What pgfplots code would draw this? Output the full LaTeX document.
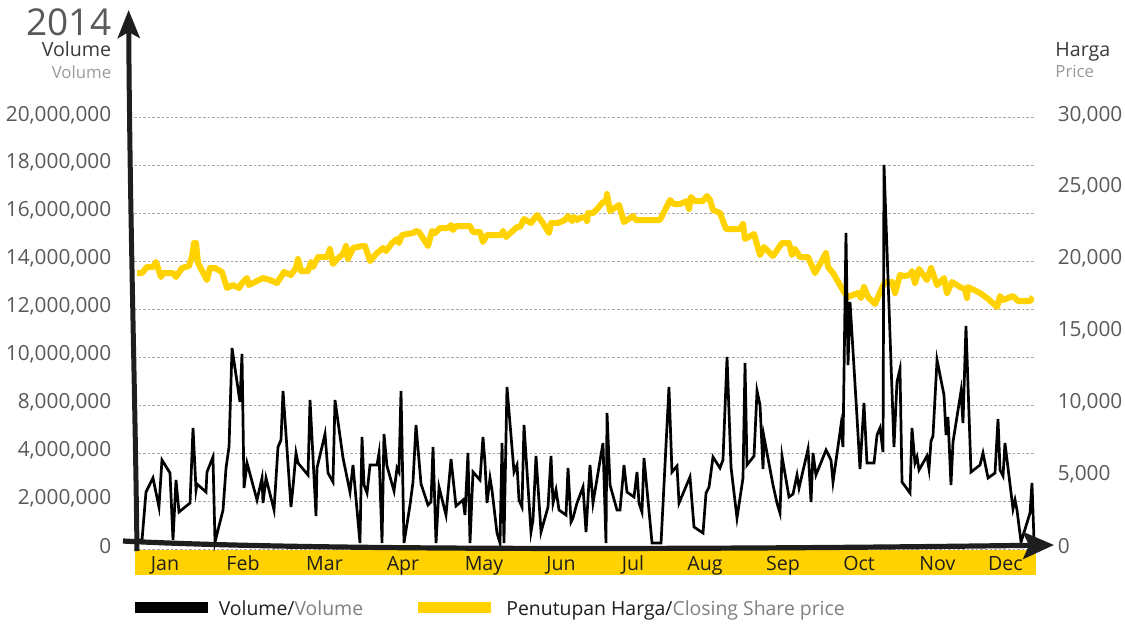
\documentclass[border=0pt]{standalone}
\usepackage{pgfplots}
\usepackage{pgfplotstable}
\pgfplotsset{compat=1.18}
\usetikzlibrary{arrows.meta}
\usepackage{fontspec}
\setmainfont{Open Sans}
\definecolor{ryellow}{HTML}{FFD200}
\definecolor{tickgray}{HTML}{595959}
\definecolor{subgray}{HTML}{9A9A9A}
\definecolor{darktxt}{HTML}{3A3A3A}
\definecolor{arrowblack}{HTML}{1E1E1E}
\definecolor{gridgray}{HTML}{A6A6A6}

\pgfplotstableread{
x vol
0.040 376000
0.107 376000
0.160 2379000
0.253 2964000
0.333 1753000
0.373 3715000
0.480 3173000
0.520 376000
0.560 2880000
0.600 1545000
0.747 1920000
0.787 5051000
0.827 2463000
0.840 2713000
0.960 2379000
0.973 3214000
1.053 3840000
1.080 292000
1.187 1628000
1.227 3381000
1.267 4258000
1.307 8391000
1.413 6136000
1.440 8140000
1.467 2546000
1.507 3590000
1.640 2045000
1.707 2964000
1.720 1920000
1.760 2964000
1.867 1628000
1.920 4258000
1.960 4550000
1.987 6596000
2.093 1753000
2.120 2588000
2.160 4007000
2.187 3590000
2.320 3089000
2.347 6220000
2.427 1378000
2.440 3381000
2.547 4801000
2.587 3173000
2.653 2797000
2.680 6220000
2.787 3799000
2.880 2379000
2.920 3506000
3.013 250000
3.040 4675000
3.067 2672000
3.107 2338000
3.147 3506000
3.240 3506000
3.267 4007000
3.307 250000
3.333 4801000
3.373 3465000
3.467 2421000
3.507 3381000
3.533 3214000
3.560 6596000
3.600 250000
3.680 1837000
3.720 2797000
3.760 5176000
3.827 2713000
3.920 1837000
3.960 1962000
3.987 4258000
4.027 250000
4.067 2588000
4.160 1419000
4.227 3757000
4.293 1795000
4.387 2045000
4.413 1419000
4.453 4007000
4.480 250000
4.520 3214000
4.613 2880000
4.653 4675000
4.680 3590000
4.707 1920000
4.747 2964000
4.773 2463000
4.840 668000
4.880 250000
4.907 4425000
4.933 250000
4.973 6763000
5.067 3214000
5.107 3506000
5.133 2045000
5.173 1753000
5.200 5176000
5.293 710000
5.320 1211000
5.360 3882000
5.427 710000
5.520 1753000
5.560 3882000
5.587 1920000
5.627 2463000
5.667 1628000
5.760 1419000
5.787 3381000
5.827 1127000
5.853 1294000
5.907 1920000
5.987 2588000
6.027 710000
6.080 3506000
6.120 1920000
6.253 4425000
6.293 250000
6.307 5677000
6.347 2672000
6.440 1628000
6.480 1628000
6.520 3006000
6.533 3506000
6.573 2379000
6.667 2171000
6.707 3214000
6.733 1920000
6.773 1545000
6.800 3799000
6.907 250000
7.027 250000
7.133 6763000
7.173 3214000
7.240 3465000
7.267 1920000
7.413 3006000
7.467 918000
7.587 668000
7.627 2338000
7.667 2588000
7.720 3840000
7.813 3381000
7.853 3715000
7.907 8015000
7.960 3423000
8.040 1294000
8.120 2964000
8.147 7764000
8.173 3506000
8.267 3882000
8.307 6596000
8.347 6011000
8.387 3340000
8.400 4675000
8.520 2672000
8.573 1920000
8.613 1503000
8.640 3882000
8.733 2171000
8.787 2296000
8.840 3089000
8.867 2546000
8.987 4174000
9.027 1962000
9.053 4007000
9.093 3089000
9.227 4133000
9.293 3715000
9.320 2797000
9.427 5176000
9.453 4258000
9.493 13191000
9.520 7681000
9.547 10311000
9.640 5510000
9.680 3340000
9.733 6095000
9.773 3590000
9.867 3590000
9.907 4759000
9.947 5051000
9.987 4049000
10.000 16030000
10.133 4258000
10.173 6971000
10.213 7514000
10.240 2797000
10.347 2338000
10.373 5051000
10.413 3590000
10.440 3840000
10.467 3298000
10.573 3882000
10.600 3340000
10.627 4508000
10.653 4717000
10.707 7890000
10.800 6429000
10.827 4759000
10.853 5510000
10.893 2672000
10.920 4467000
11.027 6596000
11.053 5260000
11.093 9309000
11.160 3214000
11.280 3506000
11.320 4007000
11.387 2964000
11.480 3173000
11.520 5427000
11.547 3298000
11.587 3047000
11.613 4425000
11.720 1670000
11.747 2045000
11.773 1628000
11.827 292000
11.947 1503000
11.973 2755000
12.000 376000
}\voltable

\pgfplotstableread{
x price
0.040 19201
0.107 19201
0.173 19619
0.253 19619
0.293 19967
0.360 18923
0.387 19201
0.520 19201
0.560 18923
0.640 19549
0.733 19688
0.773 20314
0.800 21288
0.827 21288
0.853 19897
0.973 18714
1.013 19549
1.080 19549
1.173 19271
1.240 18158
1.320 18366
1.400 18158
1.440 18506
1.507 18853
1.533 18366
1.613 18575
1.720 18853
1.813 18714
1.907 18506
2.000 19271
2.093 19062
2.160 19549
2.187 20175
2.227 19340
2.320 19340
2.360 19967
2.387 19619
2.453 20314
2.573 20314
2.613 20871
2.653 19827
2.707 20175
2.787 20523
2.827 21080
2.853 20175
2.920 20941
3.040 21080
3.080 21080
3.147 20036
3.240 20593
3.320 20941
3.360 20732
3.440 21288
3.507 21567
3.533 21288
3.573 21845
3.720 21984
3.760 22123
3.800 22054
3.920 21080
3.973 22123
4.013 21984
4.080 22332
4.187 22332
4.227 22541
4.253 22193
4.293 22471
4.480 22471
4.520 22054
4.613 22054
4.653 21358
4.707 21845
4.893 21845
4.920 22123
4.960 21706
5.107 22402
5.147 22402
5.200 22958
5.293 22680
5.373 23236
5.453 22680
5.533 21984
5.560 22680
5.653 22680
5.747 22889
5.787 23167
5.840 22819
5.867 23097
5.907 22889
5.947 23028
6.013 23097
6.040 22819
6.053 23376
6.120 23376
6.187 23723
6.253 24141
6.293 24141
6.307 24697
6.347 23515
6.467 23932
6.533 22749
6.653 23167
6.693 22889
7.013 22889
7.147 24280
7.200 24002
7.280 24002
7.373 24210
7.400 23654
7.427 24489
7.480 24210
7.587 24210
7.640 24558
7.680 24280
7.720 23584
7.813 23376
7.893 22262
8.080 22262
8.120 22610
8.147 21567
8.267 21915
8.347 20454
8.400 21010
8.520 20384
8.640 21288
8.733 21288
8.773 20454
8.813 20871
8.880 20314
8.987 20314
9.080 19201
9.227 20593
9.253 19619
9.320 19201
9.467 17879
9.520 17532
9.653 17810
9.693 17462
9.733 18227
9.787 17532
9.880 17045
9.960 18019
10.013 18575
10.107 18575
10.147 17810
10.213 19062
10.267 18993
10.347 19062
10.373 19340
10.413 18506
10.467 19480
10.573 18714
10.627 19549
10.707 18366
10.800 18853
10.840 17810
10.907 18575
11.013 18227
11.080 18088
11.107 17462
11.120 18227
11.280 17810
11.373 17462
11.507 16836
11.547 17601
11.587 17323
11.720 17601
11.787 17253
11.947 17253
11.987 17532
}\pricetable

\begin{document}
\begin{tikzpicture}[x=1pt,y=1pt]
\useasboundingbox (0,0) rectangle (562.5,311.5);
% month band
\fill[ryellow] (67.5,24) rectangle (518,36.75);

% axis 1: grid, left ticks, month labels
\begin{axis}[
  at={(67pt,37pt)}, anchor=south west,
  width=450pt, height=215.6pt, scale only axis,
  xmin=0, xmax=12, ymin=0, ymax=18000000,
  axis x line*=bottom, axis y line*=left,
  axis line style={draw=none},
  major tick length=0pt,
  scaled y ticks=false,
  ytick={0,2000000,4000000,6000000,8000000,10000000,12000000,14000000,16000000,18000000},
  yticklabels={0,{2,000,000},{4,000,000},{8,000,000},{10,000,000},{12,000,000},{14,000,000},{16,000,000},{18,000,000},{20,000,000}},
  yticklabel style={anchor=east, inner sep=0pt, xshift=-11.2pt, yshift=1.5pt,
    font=\fontsize{10.4}{12}\selectfont, text=tickgray},
  ymajorgrids,
  grid style={gridgray, line width=0.5pt, dash pattern=on 1.3pt off 1pt},
  xtick={0.413,1.453,2.54,3.587,4.667,5.693,6.653,7.613,8.653,9.667,10.713,11.62},
  xticklabels={Jan,Feb,Mar,Apr,May,Jun,Jul,Aug,Sep,Oct,Nov,Dec},
  xticklabel style={anchor=base, inner sep=0pt, yshift=-10.5pt,
    font=\fontsize{9.8}{12}\selectfont, text=arrowblack},
]
\addplot[draw=none, forget plot] coordinates {(0,0)};
\end{axis}

% axis 2: price on right
\begin{axis}[
  at={(67pt,37pt)}, anchor=south west,
  width=450pt, height=215.6pt, scale only axis,
  xmin=0, xmax=12, ymin=0, ymax=30000,
  axis y line*=right, axis x line=none,
  axis line style={draw=none},
  major tick length=0pt,
  scaled y ticks=false,
  ytick={0,5000,10000,15000,20000,25000,30000},
  yticklabels={0,{5,000},{10,000},{15,000},{20,000},{25,000},{30,000}},
  yticklabel style={anchor=west, inner sep=0pt, xshift=11.7pt, yshift=1.5pt,
    font=\fontsize{10.4}{12}\selectfont, text=tickgray},
]
\addplot[ryellow, line width=3pt, line join=round] table[x=x,y=price]{\pricetable};
\end{axis}

% axis 3: volume
\begin{axis}[
  at={(67pt,37pt)}, anchor=south west,
  width=450pt, height=215.6pt, scale only axis,
  xmin=0, xmax=12, ymin=0, ymax=18000000,
  axis lines=none, clip=false,
]
\addplot[black, line width=1.35pt] table[x=x,y=vol]{\voltable};
\end{axis}

% hand-drawn axis arrows
\draw[arrowblack, line width=2.6pt, -{Stealth[length=15.5pt,width=13.5pt,inset=3pt]}]
  (61.5,41) .. controls (150,36.3) and (350,36.6) .. (527,39);
\draw[arrowblack, line width=2.5pt, -{Stealth[length=14pt,width=11pt,inset=3pt]}]
  (68.5,36) .. controls (67.5,120) and (65,200) .. (64.3,306.5);

% titles
\node[anchor=base east, inner sep=0pt, font=\fontsize{18.5}{20}\selectfont, text=tickgray] at (55.8,294) {2014};
\node[anchor=base east, inner sep=0pt, font=\fontsize{9.8}{12}\selectfont, text=darktxt] at (55.8,283.2) {Volume};
\node[anchor=base east, inner sep=0pt, font=\fontsize{8.4}{10}\selectfont, text=subgray] at (55.8,272.3) {Volume};
\node[anchor=base west, inner sep=0pt, font=\fontsize{9.8}{12}\selectfont, text=darktxt] at (527.5,283.2) {Harga};
\node[anchor=base west, inner sep=0pt, font=\fontsize{8.4}{10}\selectfont, text=subgray] at (527.5,272.8) {Price};

% legend
\fill[black] (67.5,5.2) rectangle (104.2,10.7);
\node[anchor=base west, inner sep=0pt, font=\fontsize{9.7}{12}\selectfont] at (109.2,4)
  {\textcolor{arrowblack}{Volume/}\textcolor{gray}{Volume}};
\fill[ryellow] (209.2,5.2) rectangle (245.3,10.7);
\node[anchor=base west, inner sep=0pt, font=\fontsize{9.7}{12}\selectfont] at (253,4)
  {\textcolor{arrowblack}{Penutupan Harga/}\textcolor{gray}{Closing Share price}};
\end{tikzpicture}
\end{document}
